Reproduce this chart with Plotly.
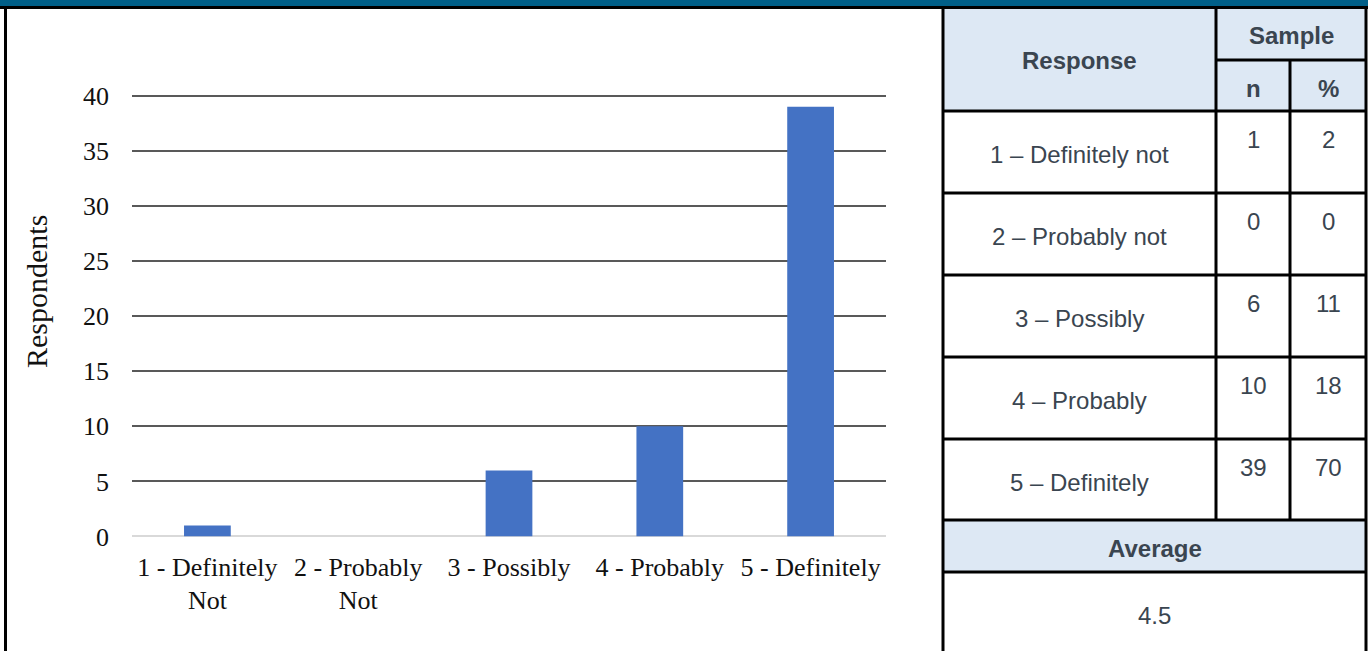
import plotly.graph_objects as go

# ---- data ----
categories = ["1 - Definitely<br>Not", "2 - Probably<br>Not", "3 - Possibly",
              "4 - Probably", "5 - Definitely"]
responses = ["1 – Definitely not", "2 – Probably not", "3 – Possibly",
             "4 – Probably", "5 – Definitely"]
counts = [1, 0, 6, 10, 39]
percents = [2, 0, 11, 18, 70]
average = 4.5
y_tick_values = [0, 5, 10, 15, 20, 25, 30, 35, 40]

# ---- page geometry helpers (pixel -> paper) ----
W, H = 1368, 651


def px(x):
    return x / W


def py(y):
    return 1 - y / H


TEXT_DARK = "#3a4550"
HEADER_BG = "#dde8f4"
BAND = "#005f88"
BORDER = "black"
SERIF = "Liberation Serif, Times New Roman, serif"

# y scale: pixels per unit; top of range padded slightly so the 40 gridline shows
Y_ZERO_PX = 536.5
PX_PER_UNIT = 11.02
Y_MAX = 40.15

fig = go.Figure()

fig.add_trace(go.Bar(
    x=categories,
    y=counts,
    marker=dict(color="#4472c4", line=dict(width=0)),
    hoverinfo="x+y",
))

fig.update_layout(
    width=W,
    height=H,
    margin=dict(l=0, r=0, t=0, b=0, autoexpand=False),
    paper_bgcolor="white",
    plot_bgcolor="white",
    showlegend=False,
    bargap=0.69,
    font=dict(family=SERIF, size=26, color="#111111"),
    xaxis=dict(
        domain=[px(132), px(886)],
        automargin=False,
        showgrid=False,
        showline=False,
        ticks="",
        ticklabelstandoff=12,
        tickfont=dict(size=26),
    ),
    yaxis=dict(
        domain=[py(Y_ZERO_PX), py(Y_ZERO_PX - Y_MAX * PX_PER_UNIT)],
        automargin=False,
        range=[0, Y_MAX],
        tickvals=y_tick_values,
        showgrid=True,
        gridcolor="#595959",
        gridwidth=1.5,
        zeroline=True,
        zerolinecolor="#d9d9d9",
        zerolinewidth=2,
        showline=False,
        ticks="",
        ticklabelstandoff=22,
        tickfont=dict(size=26),
    ),
)

shapes = []

# title band across the top of the page
shapes.append(dict(type="rect", xref="paper", yref="paper",
                   x0=0, x1=1, y0=py(7), y1=1,
                   fillcolor=BAND, line=dict(width=0), layer="above"))
shapes.append(dict(type="line", xref="paper", yref="paper",
                   x0=0, x1=1, y0=py(7.5), y1=py(7.5),
                   line=dict(color=BORDER, width=3), layer="above"))
# left page border
shapes.append(dict(type="line", xref="paper", yref="paper",
                   x0=px(5.5), x1=px(5.5), y0=py(7.5), y1=0,
                   line=dict(color=BORDER, width=3), layer="above"))

# ---- summary table on the right ----
T_LEFT, C_N, C_PCT, T_RIGHT = 943, 1216, 1290, 1366
T_TOP, SUB_SPLIT, HEAD_BOTTOM = 8, 60, 111
row_edges = [111, 193, 275, 357, 439, 520]
AVG_HEAD_BOTTOM = 572

# shaded header cells
shapes.append(dict(type="rect", xref="paper", yref="paper",
                   x0=px(T_LEFT), x1=px(T_RIGHT), y0=py(HEAD_BOTTOM), y1=py(T_TOP),
                   fillcolor=HEADER_BG, line=dict(width=0), layer="below"))
shapes.append(dict(type="rect", xref="paper", yref="paper",
                   x0=px(T_LEFT), x1=px(T_RIGHT), y0=py(AVG_HEAD_BOTTOM), y1=py(row_edges[-1]),
                   fillcolor=HEADER_BG, line=dict(width=0), layer="below"))


def hline(y, x0, x1):
    shapes.append(dict(type="line", xref="paper", yref="paper",
                       x0=px(x0), x1=px(x1), y0=py(y), y1=py(y),
                       line=dict(color=BORDER, width=3), layer="above"))


def vline(x, y0, y1):
    shapes.append(dict(type="line", xref="paper", yref="paper",
                       x0=px(x), x1=px(x), y0=py(y0), y1=py(y1),
                       line=dict(color=BORDER, width=3), layer="above"))


vline(T_LEFT, T_TOP, H)
vline(T_RIGHT, T_TOP, H)
vline(C_N, T_TOP, row_edges[-1])
vline(C_PCT, SUB_SPLIT, row_edges[-1])
hline(SUB_SPLIT, C_N, T_RIGHT)
for y in row_edges:
    hline(y, T_LEFT, T_RIGHT)
hline(AVG_HEAD_BOTTOM, T_LEFT, T_RIGHT)

annotations = []
TABLE_FONT = "Liberation Sans, Arial, sans-serif"


def cell_text(x, y, text, bold=False, size=24):
    annotations.append(dict(
        xref="paper", yref="paper", x=px(x), y=py(y),
        xanchor="center", yanchor="middle", showarrow=False,
        text=f"<b>{text}</b>" if bold else text,
        font=dict(family=TABLE_FONT, size=size, color=TEXT_DARK),
    ))


col_resp = (T_LEFT + C_N) / 2
col_n = (C_N + C_PCT) / 2
col_pct = (C_PCT + T_RIGHT) / 2

cell_text(col_resp, 61, "Response", bold=True)
cell_text((C_N + T_RIGHT) / 2, 36, "Sample", bold=True)
cell_text(col_n, 88, "n", bold=True)
cell_text(col_pct, 88, "%", bold=True)

for i, (label, n, pct) in enumerate(zip(responses, counts, percents)):
    top = row_edges[i]
    cell_text(col_resp, top + 43, label)
    cell_text(col_n, top + 28, str(n))
    cell_text(col_pct, top + 28, str(pct))

cell_text((T_LEFT + T_RIGHT) / 2, 548, "Average", bold=True)
cell_text((T_LEFT + T_RIGHT) / 2, 615, f"{average}")

# vertical axis title
annotations.append(dict(
    xref="paper", yref="paper", x=px(36), y=py(292),
    xanchor="center", yanchor="middle", showarrow=False,
    text="Respondents", textangle=-90,
    font=dict(family=SERIF, size=30, color="#111111"),
))

fig.update_layout(shapes=shapes, annotations=annotations)

fig.write_html("out.html")
